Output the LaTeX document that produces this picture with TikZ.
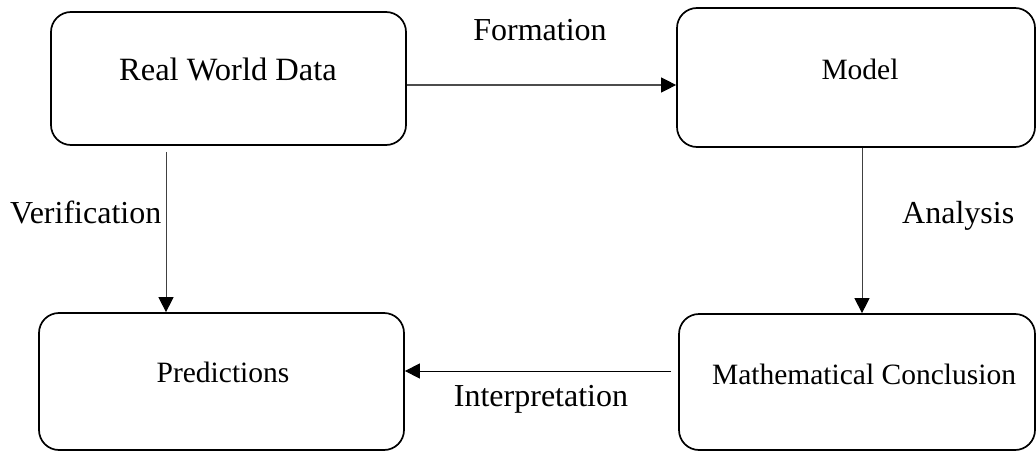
\documentclass[tikz,border=0pt]{standalone}
\usepackage{fontspec}
\setmainfont{Liberation Serif}
\usetikzlibrary{arrows.meta}
\begin{document}
\begin{tikzpicture}[x=1pt,y=-1pt,
  box/.style={draw=black,line width=1.7pt,rounded corners=20pt,inner sep=0pt},
  boxtext/.style={anchor=base,inner sep=0pt,font=\fontsize{29.5}{34}\selectfont},
  lbl/.style={inner sep=0pt,font=\fontsize{32}{38}\selectfont},
  arr/.style={draw=black!75,line width=1pt,-{Triangle[length=15pt,width=15pt,color=black]}}]
\useasboundingbox (0,0) rectangle (1036,452);
% boxes
\node[box,minimum width=355pt,minimum height=133pt] (rwd) at (228.5,78.5) {};
\node[box,minimum width=358pt,minimum height=139pt] (model) at (856,77.5) {};
\node[box,minimum width=365pt,minimum height=137pt] (pred) at (221.5,381.5) {};
\node[box,minimum width=356pt,minimum height=136pt] (mc) at (857,382) {};
% box texts
\node[boxtext,font=\fontsize{32.5}{37}\selectfont] (rwdt) at (228,81) {Real World Data};
\node[boxtext] (modelt) at (860,79) {Model};
\node[boxtext] (predt) at (223,382) {Predictions};
\node[boxtext] (mct) at (864,384) {Mathematical Conclusion};
% connectors
\draw[arr,line width=1.3pt,draw=black!70] (rwd.east |- 0,85) -- (model.west |- 0,85);
\draw[arr,shorten <=6pt] (rwd.south -| 166,0) -- (pred.north -| 166,0);
\draw[arr] (model.south -| 862,0) -- (mc.north -| 862,0);
\draw[arr,draw=black,line width=0.9pt,shorten <=7pt] (mc.west |- 0,371) -- (pred.east |- 0,371);
% labels
\node[lbl,anchor=base] (lform) at (540,41) {Formation};
\node[lbl,anchor=base west] (lver) at (10,223) {Verification};
\node[lbl,anchor=base west] (lana) at (902,223) {Analysis};
\node[lbl,anchor=base] (lint) at (541,406) {Interpretation};
\end{tikzpicture}
\end{document}
